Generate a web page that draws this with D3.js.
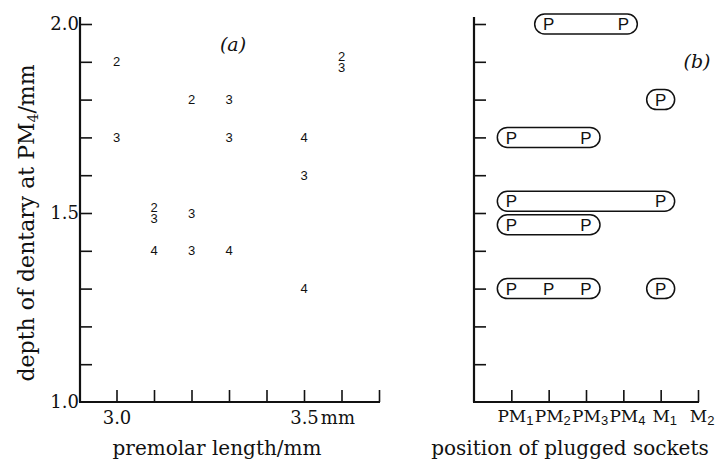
<!DOCTYPE html>
<html lang="en">
<head>
    <meta charset="UTF-8">
    <title>Dentary depth and plugged sockets</title>
    <script src="https://d3js.org/d3.v7.min.js"></script>
    <style>
        body { margin: 0; background: #fff; }
        svg { display: block; }
        .serif { font-family: "DejaVu Serif", serif; fill: #111; }
        .num { font-family: "Liberation Sans", Arial, sans-serif; font-size: 13px; fill: #111; }
        .plug { font-family: "Liberation Sans", Arial, sans-serif; font-size: 17px; fill: #111; }
    </style>
</head>
<body>
    <svg width="715" height="461"></svg>
    <script>
        // panel (a): premolar length vs dentary depth, label = number of teeth
        const ptLength = [3.0, 3.0, 3.1, 3.1, 3.1, 3.2, 3.2, 3.2, 3.3, 3.3, 3.3, 3.5, 3.5, 3.5, 3.6, 3.6];
        const ptDepth  = [1.9, 1.7, 1.5, 1.5, 1.4, 1.8, 1.5, 1.4, 1.8, 1.7, 1.4, 1.7, 1.6, 1.3, 1.9, 1.9];
        const ptLabel  = ["2", "3", "2", "3", "4", "2", "3", "3", "3", "3", "4", "4", "3", "4", "2", "3"];

        const lengthTicks = [3.0, 3.1, 3.2, 3.3, 3.4, 3.5, 3.6, 3.7];
        const lengthLabels = [3.0, 3.5];
        const depthTicks = [1.1, 1.2, 1.3, 1.4, 1.5, 1.6, 1.7, 1.8, 1.9, 2.0];
        const depthLabels = [1.0, 1.5, 2.0];

        // panel (b): plugged socket positions per specimen
        const sockets = ["PM1", "PM2", "PM3", "PM4", "M1", "M2"];
        const rowDepth = [2.0, 1.8, 1.7, 1.5, 1.5, 1.3, 1.3];
        const rowPlugs = [
            ["PM2", "PM4"],
            ["M1"],
            ["PM1", "PM3"],
            ["PM1", "M1"],
            ["PM1", "PM3"],
            ["PM1", "PM2", "PM3"],
            ["M1"]
        ];

        const svg = d3.select("svg");

        const y = d3.scaleLinear().domain([1.0, 2.0]).range([402, 24]);
        const xa = d3.scaleLinear().domain([2.9, 3.7]).range([79, 379]);
        const xb = d3.scaleLinear().domain([0, 6]).range([474, 698]);
        const sockPos = s => xb(sockets.indexOf(s) + 1);

        const axisLine = (g, x1, y1, x2, y2) => g.append("line")
            .attr("x1", x1).attr("y1", y1).attr("x2", x2).attr("y2", y2)
            .attr("stroke", "#111").attr("stroke-width", 2.2);

        function styleAxis(g) {
            g.select(".domain").remove();
            g.selectAll(".tick line").attr("stroke", "#111").attr("stroke-width", 1.6);
            g.selectAll(".tick text").attr("class", "serif").attr("font-size", 18).attr("fill", "#111");
        }

        // ---------- panel (a) ----------
        const ga = svg.append("g");

        ga.append("g")
            .attr("transform", "translate(80,0)")
            .call(d3.axisLeft(y).tickValues(depthTicks.concat([1.0])).tickSize(-12).tickPadding(1)
                .tickFormat(d => depthLabels.some(v => Math.abs(v - d) < 1e-9) ? d3.format(".1f")(d) : ""))
            .call(styleAxis)
            .selectAll(".tick").filter(d => d === 1.0).select("line").remove();

        const xAxisA = ga.append("g")
            .attr("transform", "translate(0,402)")
            .call(d3.axisBottom(xa).tickValues(lengthTicks).tickSize(-12).tickPadding(9)
                .tickFormat(d => lengthLabels.some(v => Math.abs(v - d) < 1e-9) ? d3.format(".1f")(d) : ""))
            .call(styleAxis);

        // "3.5 mm": keep the number centred on its tick
        xAxisA.selectAll(".tick").filter(d => Math.abs(d - 3.5) < 1e-9).select("text")
            .each(function () {
                const t = d3.select(this);
                const w = this.getComputedTextLength();
                t.attr("text-anchor", "start").attr("x", -w / 2);
                t.append("tspan").attr("dx", 2).text("mm");
            });

        axisLine(ga, 80, y(1.0), 80, 17);
        axisLine(ga, 79, y(1.0), xa(3.7) + 1, y(1.0));

        // stacked labels at coincident points
        const groups = d3.group(d3.range(ptLength.length), i => ptLength[i] + "|" + ptDepth[i]);
        groups.forEach(idx => {
            idx.forEach((i, k) => {
                const off = (k - (idx.length - 1) / 2) * 10.5;
                ga.append("text").attr("class", "num")
                    .attr("x", xa(ptLength[i]))
                    .attr("y", y(ptDepth[i]) + off)
                    .attr("dy", "0.36em")
                    .attr("text-anchor", "middle")
                    .text(ptLabel[i]);
            });
        });

        ga.append("text").attr("class", "serif")
            .attr("x", 233).attr("y", 51).attr("text-anchor", "middle")
            .attr("font-size", 19).attr("font-style", "italic").text("(a)");

        ga.append("text").attr("class", "serif")
            .attr("x", 217).attr("y", 455).attr("text-anchor", "middle")
            .attr("font-size", 20).text("premolar length/mm");

        const yTitle = ga.append("text").attr("class", "serif")
            .attr("transform", "translate(34,223) rotate(-90)")
            .attr("text-anchor", "middle").attr("font-size", 22);
        yTitle.append("tspan").text("depth of dentary at PM");
        yTitle.append("tspan").attr("font-size", 14).attr("dy", 4).text("4");
        yTitle.append("tspan").attr("dy", -4).text("/mm");

        // ---------- panel (b) ----------
        const gb = svg.append("g");

        gb.append("g")
            .attr("transform", "translate(474,0)")
            .call(d3.axisLeft(y).tickValues(depthTicks).tickSize(-12).tickFormat(""))
            .call(styleAxis);

        const xAxisB = gb.append("g")
            .attr("transform", "translate(0,402)")
            .call(d3.axisBottom(xb).tickValues(d3.range(1, sockets.length + 1)).tickSize(-12).tickPadding(8)
                .tickFormat(""))
            .call(styleAxis);

        xAxisB.selectAll(".tick").append("text")
            .attr("class", "serif").attr("font-size", 17).attr("y", 8).attr("dy", "0.71em")
            .each(function (d) {
                const name = sockets[d - 1];
                const main = name.replace(/\d+$/, "");
                const sub = name.slice(main.length);
                const t = d3.select(this);
                t.append("tspan").text(main);
                const w = this.getComputedTextLength();
                t.attr("text-anchor", "start").attr("x", -w / 2);
                t.append("tspan").attr("font-family", "Liberation Sans, sans-serif")
                    .attr("font-size", 13).attr("dy", 3).text(sub);
            });

        axisLine(gb, 474, y(1.0), 474, 17);
        axisLine(gb, 473, y(1.0), xb(6) + 1, y(1.0));

        // rows sharing a depth and overlapping in x are split above/below the tick
        const rowGroups = d3.group(d3.range(rowDepth.length), i => rowDepth[i]);
        const rowOffset = {};
        rowGroups.forEach(idx => {
            const overl = idx.filter(i => idx.some(j => j !== i &&
                d3.min(rowPlugs[i].map(sockPos)) <= d3.max(rowPlugs[j].map(sockPos)) &&
                d3.min(rowPlugs[j].map(sockPos)) <= d3.max(rowPlugs[i].map(sockPos))));
            idx.forEach(i => { rowOffset[i] = 0; });
            overl.forEach((i, k) => { rowOffset[i] = (k - (overl.length - 1) / 2) * 23.5; });
        });

        rowDepth.forEach((dep, i) => {
            const xs = rowPlugs[i].map(sockPos);
            const cy = y(dep) + rowOffset[i];
            const x0 = d3.min(xs) - 14, x1 = d3.max(xs) + 14;
            gb.append("rect")
                .attr("x", x0).attr("y", cy - 10)
                .attr("width", x1 - x0).attr("height", 20)
                .attr("rx", 10).attr("ry", 10)
                .attr("fill", "none").attr("stroke", "#111").attr("stroke-width", 1.5);
            xs.forEach(px => {
                gb.append("text").attr("class", "plug")
                    .attr("x", px).attr("y", cy).attr("dy", "0.36em")
                    .attr("text-anchor", "middle").text("P");
            });
        });

        gb.append("text").attr("class", "serif")
            .attr("x", 697).attr("y", 68).attr("text-anchor", "middle")
            .attr("font-size", 19).attr("font-style", "italic").text("(b)");

        gb.append("text").attr("class", "serif")
            .attr("x", 570).attr("y", 455).attr("text-anchor", "middle")
            .attr("font-size", 20).text("position of plugged sockets");
    </script>
</body>
</html>
